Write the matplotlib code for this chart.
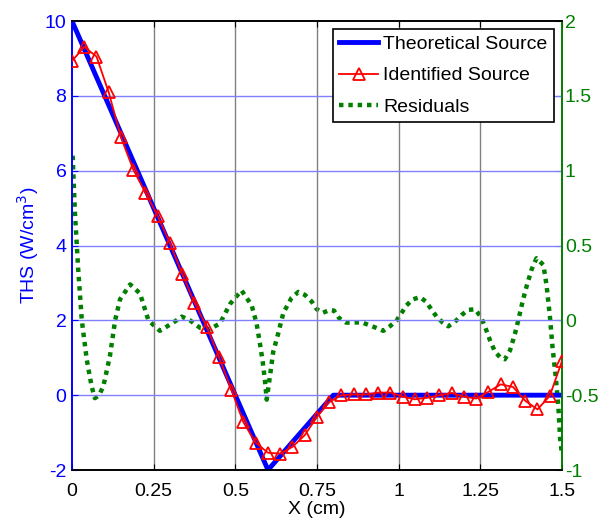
import numpy as np
import matplotlib
matplotlib.use("Agg")
import matplotlib.pyplot as plt

plt.rcParams['font.family'] = ['Liberation Sans', 'DejaVu Sans']
plt.rcParams['axes.unicode_minus'] = False

# theoretical heat source (piecewise linear)
x_theo = [0, 0.6, 0.8, 1.5]
y_theo = [10, -2, 0, 0]

# identified source, 41 nodes
x_ident = np.linspace(0, 1.5, 41)
y_ident = [8.93, 9.31, 9.05, 8.09, 6.89, 6.03, 5.41, 4.79, 4.06, 3.24,
           2.47, 1.83, 1.02, 0.15, -0.73, -1.27, -1.54, -1.56, -1.38, -1.07,
           -0.58, -0.18, 0.0, 0.02, 0.02, 0.07, 0.07, -0.04, -0.11, -0.07,
           0.0, 0.06, -0.04, -0.09, 0.09, 0.29, 0.22, -0.15, -0.38, -0.02, 0.91]

# residuals (right axis)
x_res = [0.002, 0.009, 0.019, 0.03, 0.045, 0.06, 0.07, 0.083, 0.096, 0.116,
         0.132, 0.147, 0.178, 0.208, 0.234, 0.269, 0.31, 0.336, 0.361, 0.392,
         0.422, 0.453, 0.484, 0.519, 0.55, 0.565, 0.575, 0.584, 0.591, 0.596,
         0.608, 0.616, 0.631, 0.647, 0.672, 0.693, 0.713, 0.734, 0.749, 0.767,
         0.79, 0.802, 0.818, 0.839, 0.861, 0.887, 0.907, 0.931, 0.953, 0.973,
         0.994, 1.009, 1.024, 1.043, 1.065, 1.084, 1.101, 1.116, 1.135, 1.152,
         1.172, 1.193, 1.213, 1.234, 1.251, 1.264, 1.279, 1.295, 1.312, 1.325,
         1.341, 1.356, 1.366, 1.381, 1.392, 1.407, 1.422, 1.443, 1.453, 1.463,
         1.471, 1.481, 1.489, 1.494, 1.5]
y_res = [1.10, 0.72, 0.34, 0.0, -0.26, -0.44, -0.52, -0.50, -0.44, -0.24,
         0.0, 0.14, 0.24, 0.18, 0.0, -0.07, -0.015, 0.025, 0.0, -0.05,
         -0.06, -0.02, 0.11, 0.2, 0.1, -0.02, -0.15, -0.28, -0.41, -0.53,
         -0.34, -0.21, -0.09, 0.05, 0.15, 0.19, 0.17, 0.125, 0.075, 0.05,
         0.07, 0.065, 0.014, -0.015, -0.015, -0.013, -0.03, -0.05, -0.07, -0.04,
         0.0, 0.05, 0.1, 0.14, 0.155, 0.125, 0.07, 0.025, -0.015, -0.04,
         -0.01, 0.036, 0.07, 0.074, 0.025, -0.04, -0.13, -0.21, -0.25, -0.26,
         -0.2, -0.09, 0.0, 0.14, 0.23, 0.34, 0.415, 0.37, 0.23, 0.025,
         -0.18, -0.38, -0.58, -0.78, -0.9]

x_ticks = [0, 0.25, 0.5, 0.75, 1, 1.25, 1.5]
x_ticklabels = ['0', '0.25', '0.5', '0.75', '1', '1.25', '1.5']
y_ticks = [-2, 0, 2, 4, 6, 8, 10]
r_ticks = [-1, -0.5, 0, 0.5, 1, 1.5, 2]
r_ticklabels = ['-1', '-0.5', '0', '0.5', '1', '1.5', '2']

blue = '#0000FF'
green = '#007F00'
fs = 14

fig = plt.figure(figsize=(6.03, 5.29), dpi=100)
ax = fig.add_axes([0.1194, 0.1115, 0.8126, 0.8488])
ax2 = ax.twinx()
ax.set_zorder(ax2.get_zorder() + 1)
ax.patch.set_visible(False)

# grid
for xv in x_ticks[1:-1]:
    ax.axvline(xv, color='#808080', lw=1.0, zorder=0)
for yv in y_ticks[1:-1]:
    ax.axhline(yv, color='#8080FF', lw=1.0, zorder=0)

l1, = ax.plot(x_theo, y_theo, color=blue, lw=3.5, label='Theoretical Source', zorder=2)
l2, = ax.plot(x_ident, y_ident, color='red', lw=1.3, marker='^', ms=8,
              mfc='none', mec='red', mew=1.3, label='Identified Source', zorder=3)
l3, = ax2.plot(x_res, y_res, color=green, lw=3.2, ls=(0, (1, 1.1)), label='Residuals')

ax.set_xlim(0, 1.5)
ax.set_ylim(-2, 10)
ax2.set_ylim(-1, 2)

ax.set_xticks(x_ticks)
ax.set_xticklabels(x_ticklabels)
ax.set_yticks(y_ticks)
ax2.set_yticks(r_ticks)
ax2.set_yticklabels(r_ticklabels)

ax.tick_params(axis='x', direction='in', top=True, length=4, labelsize=fs, pad=9, colors='black')
ax.tick_params(axis='y', direction='in', length=4, labelsize=fs, colors=blue, pad=4)
ax2.tick_params(axis='y', direction='in', length=4, labelsize=fs, colors=green, pad=2)

for a in (ax, ax2):
    a.spines['top'].set_color('black')
    a.spines['bottom'].set_color('black')
    a.spines['left'].set_color(blue)
    a.spines['right'].set_color(green)
    for s in a.spines.values():
        s.set_linewidth(1.2)

ax.set_ylabel('THS (W/cm$^3$)', color=blue, fontsize=fs, labelpad=3)
ax.set_xlabel('X (cm)', fontsize=fs, labelpad=1)

leg = ax.legend(handles=[l1, l2, l3], loc='upper right', fontsize=fs,
                frameon=True, fancybox=False, framealpha=1, edgecolor='black',
                handlelength=2.0, handletextpad=0.25, borderpad=0.35,
                labelspacing=0.7, borderaxespad=0.4)
leg.get_frame().set_linewidth(1.2)

fig.savefig('out.png', dpi=100)
